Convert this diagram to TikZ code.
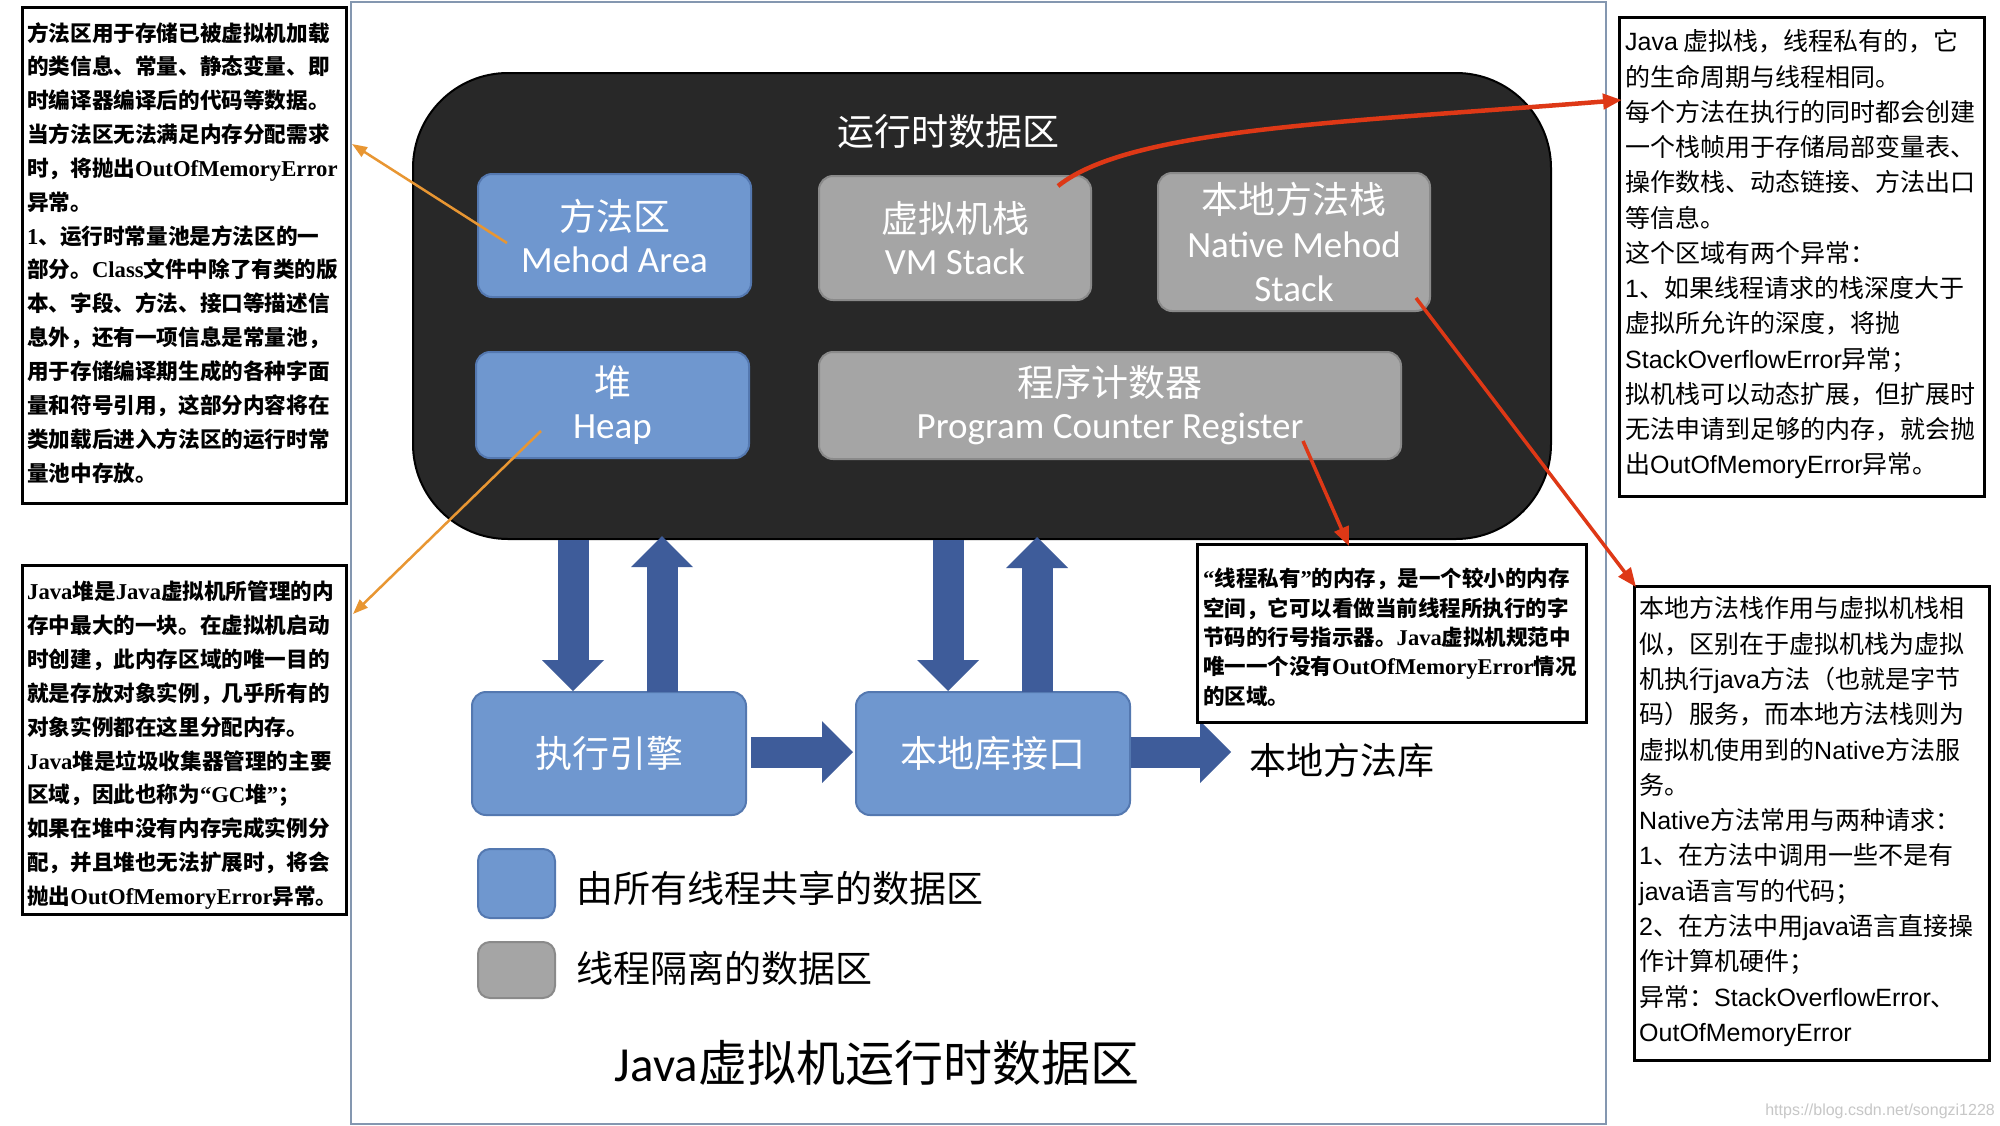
\documentclass[tikz,border=0pt]{standalone}
\usepackage{fontspec}
\setmainfont{Noto Sans CJK SC}
\newfontfamily\calf{Carlito}
\newfontfamily\serf{Liberation Serif}[Scale=1.05]
\newfontfamily\sanf{Liberation Sans}
\usetikzlibrary{arrows.meta}
\newcommand\tmsB[1]{{\serf\bfseries #1}}
\newcommand\hvS[1]{{\sanf #1}}
\definecolor{cblue}{RGB}{111,151,207}
\definecolor{cblueb}{RGB}{84,120,176}
\definecolor{cgrey}{RGB}{165,165,165}
\definecolor{cgreyb}{RGB}{138,138,138}
\definecolor{cdark}{RGB}{40,40,40}
\definecolor{carrow}{RGB}{62,92,154}
\definecolor{corange}{RGB}{232,150,50}
\definecolor{cred}{RGB}{222,56,22}
\definecolor{cframe}{RGB}{132,151,176}
\tikzset{
  notebox/.style={draw=black, line width=3pt, fill=white, anchor=north west, inner sep=0pt},
  notetext/.style={anchor=north west, inner sep=0pt, align=left, text=black},
  boxbase/.style={line width=2pt, rounded corners=14pt, anchor=north west, text=white, align=center, inner sep=0pt, font={\fontsize{37}{42}\selectfont}},
  bluebox/.style={boxbase, draw=cblueb, fill=cblue},
  greybox/.style={boxbase, draw=cgreyb, fill=cgrey},
  fatarrow/.style={draw=carrow, line width=31pt, -{Triangle[width=62pt,length=31pt,line width=0pt]}},
  orangearrow/.style={draw=corange, line width=2.5pt, -{Triangle[width=11pt,length=15pt]}},
  redarrow/.style={draw=cred, line width=3.5pt, -{Triangle[width=15pt,length=19pt]}},
  bigtext/.style={inner sep=0pt, font={\fontsize{37}{42}\selectfont}}
}
\begin{document}
\begin{tikzpicture}[x=1pt,y=-1pt]
\path[use as bounding box, fill=white] (0,0) rectangle (2000,1125);

% frame of the central panel
\node[draw=cframe, line width=1.5pt, anchor=north west, inner sep=0pt, minimum width=1255pt, minimum height=1122pt] (frame) at (350,1) {};

% runtime data area
\node[draw=black, fill=cdark, line width=2pt, rounded corners=95pt, anchor=north west, inner sep=0pt, minimum width=1138pt, minimum height=466pt] (rt) at (412,72) {};
\node[bigtext, text=white] (rttitle) at (948,131) {运行时数据区};

\node[bluebox, minimum width=273pt, minimum height=123pt] (ma) at (477,173) {方法区\\{\calf Mehod Area}};
\node[greybox, minimum width=272pt, minimum height=124pt] (vm) at (818,175) {虚拟机栈\\{\calf VM Stack}};
\node[greybox, font={\fontsize{37}{44}\selectfont}, minimum width=272pt, minimum height=138pt] (ns) at (1157,172) {本地方法栈\\{\calf Native Mehod}\\{\calf Stack}};
\node[bluebox, minimum width=273pt, minimum height=106pt] (hp) at (475,351) {堆\\{\calf Heap}};
\node[greybox, minimum width=582pt, minimum height=107pt] (pc) at (818,351) {程序计数器\\{\calf Program Counter Register}};

% execution engine and native interface
\node[bluebox, minimum width=274pt, minimum height=123pt] (exec) at (471,691) {执行引擎};
\node[bluebox, minimum width=274pt, minimum height=123pt] (lib) at (855,691) {本地库接口};
\node[bigtext, anchor=west, text=black] (libtext) at (1249,760) {本地方法库};

\coordinate (xa) at (573,0);
\coordinate (xb) at (662,0);
\coordinate (xc) at (948,0);
\coordinate (xd) at (1037,0);
\coordinate (libend) at (1231,752);
\draw[fatarrow] (rt.south -| xa) -- (exec.north -| xa);
\draw[fatarrow] ([yshift=-1pt]exec.north -| xb) -- ([yshift=4pt]rt.south -| xb);
\draw[fatarrow] (rt.south -| xc) -- (lib.north -| xc);
\draw[fatarrow] ([yshift=-1pt]lib.north -| xd) -- ([yshift=3pt]rt.south -| xd);
\draw[fatarrow] ([xshift=4pt]exec.east |- libend) -- ([xshift=-2pt]lib.west |- libend);
\draw[fatarrow] (lib.east |- libend) -- (libend);

% legend
\node[bluebox, rounded corners=12pt, minimum width=77pt, minimum height=69pt] (lgblue) at (477,848) {};
\node[greybox, rounded corners=12pt, minimum width=77pt, minimum height=56pt] (lggrey) at (477,941) {};
\node[bigtext, anchor=west] (lgbluet) at (576,888) {由所有线程共享的数据区};
\node[bigtext, anchor=west] (lggreyt) at (576,968) {线程隔离的数据区};
\node[inner sep=0pt, font={\fontsize{49}{56}\selectfont}] (title) at (877,1063) {{\calf Java}虚拟机运行时数据区};

% notes
\node[notebox, minimum width=324pt, minimum height=496pt] (n1) at (21,6) {};
\node[notetext, font={\bfseries\fontsize{21.6}{33.85}\selectfont}] (n1t) at (27,22) {方法区用于存储已被虚拟机加载\\
的类信息、常量、静态变量、即\\
时编译器编译后的代码等数据。\\
当方法区无法满足内存分配需求\\
时，将抛出\tmsB{OutOfMemoryError}\\
异常。\\
\tmsB{1}、运行时常量池是方法区的一\\
部分。\tmsB{Class}文件中除了有类的版\\
本、字段、方法、接口等描述信\\
息外，还有一项信息是常量池，\\
用于存储编译期生成的各种字面\\
量和符号引用，这部分内容将在\\
类加载后进入方法区的运行时常\\
量池中存放。};

\node[notebox, minimum width=324pt, minimum height=349pt] (n2) at (21,564) {};
\node[notetext, font={\bfseries\fontsize{21.6}{33.85}\selectfont}] (n2t) at (27,581) {\tmsB{Java}堆是\tmsB{Java}虚拟机所管理的内\\
存中最大的一块。在虚拟机启动\\
时创建，此内存区域的唯一目的\\
就是存放对象实例，几乎所有的\\
对象实例都在这里分配内存。\\
\tmsB{Java}堆是垃圾收集器管理的主要\\
区域，因此也称为\tmsB{“GC}堆\tmsB{”}；\\
如果在堆中没有内存完成实例分\\
配，并且堆也无法扩展时，将会\\
抛出\tmsB{OutOfMemoryError}异常。};

\node[notebox, minimum width=389pt, minimum height=178pt] (n3) at (1196,543) {};
\node[notetext, font={\bfseries\fontsize{21.5}{29.3}\selectfont}] (n3t) at (1203,568) {\tmsB{“}线程私有\tmsB{”}的内存，是一个较小的内存\\
空间，它可以看做当前线程所执行的字\\
节码的行号指示器。\tmsB{Java}虚拟机规范中\\
唯一一个没有\tmsB{OutOfMemoryError}情况\\
的区域。};

\node[notebox, line width=2.5pt, minimum width=365pt, minimum height=479pt] (n4) at (1618,16) {};
\node[notetext, font={\fontsize{25}{35.25}\selectfont}] (n4t) at (1625,29.5) {\hvS{Java} 虚拟栈，线程私有的，它\\
的生命周期与线程相同。\\
每个方法在执行的同时都会创建\\
一个栈帧用于存储局部变量表、\\
操作数栈、动态链接、方法出口\\
等信息。\\
这个区域有两个异常：\\
\hvS{1}、如果线程请求的栈深度大于\\
虚拟所允许的深度，将抛\\
\hvS{StackOverflowError}异常；\\
拟机栈可以动态扩展，但扩展时\\
无法申请到足够的内存，就会抛\\
出\hvS{OutOfMemoryError}异常。};

\node[notebox, line width=2.5pt, minimum width=355pt, minimum height=474pt] (n5) at (1633,585) {};
\node[notetext, font={\fontsize{25}{35.3}\selectfont}] (n5t) at (1639,596.5) {本地方法栈作用与虚拟机栈相\\
似，区别在于虚拟机栈为虚拟\\
机执行\hvS{java}方法（也就是字节\\
码）服务，而本地方法栈则为\\
虚拟机使用到的\hvS{Native}方法服\\
务。\\
\hvS{Native}方法常用与两种请求：\\
\hvS{1}、在方法中调用一些不是有\\
\hvS{java}语言写的代码；\\
\hvS{2}、在方法中用\hvS{java}语言直接操\\
作计算机硬件；\\
异常：\hvS{StackOverflowError}、\\
\hvS{OutOfMemoryError}};

% connectors
\coordinate (o1s) at (507,243);
\coordinate (o1e) at (352,144);
\coordinate (o2s) at (541,431);
\coordinate (o2e) at (353,614);
\draw[orangearrow] (o1s) -- (o1e);
\draw[orangearrow] (o2s) -- (o2e);

\coordinate (r1s) at (1058,186);
\coordinate (r1e) at (1622,100);
\coordinate (r2s) at (1416,298);
\coordinate (r2e) at (1636,587);
\coordinate (r3s) at (1303,441);
\coordinate (r3e) at (1349,546);
\draw[redarrow, line width=4.5pt] (r1s) .. controls (1130,128) and (1350,122) .. (r1e);
\draw[redarrow] (r2s) -- (r2e);
\draw[redarrow] (r3s) -- (r3e);

\node[anchor=east, inner sep=0pt, text=black!22, font={\sanf\fontsize{16}{18}\selectfont}] (wm) at (1995,1111) {https://blog.csdn.net/songzi1228};
\end{tikzpicture}
\end{document}
